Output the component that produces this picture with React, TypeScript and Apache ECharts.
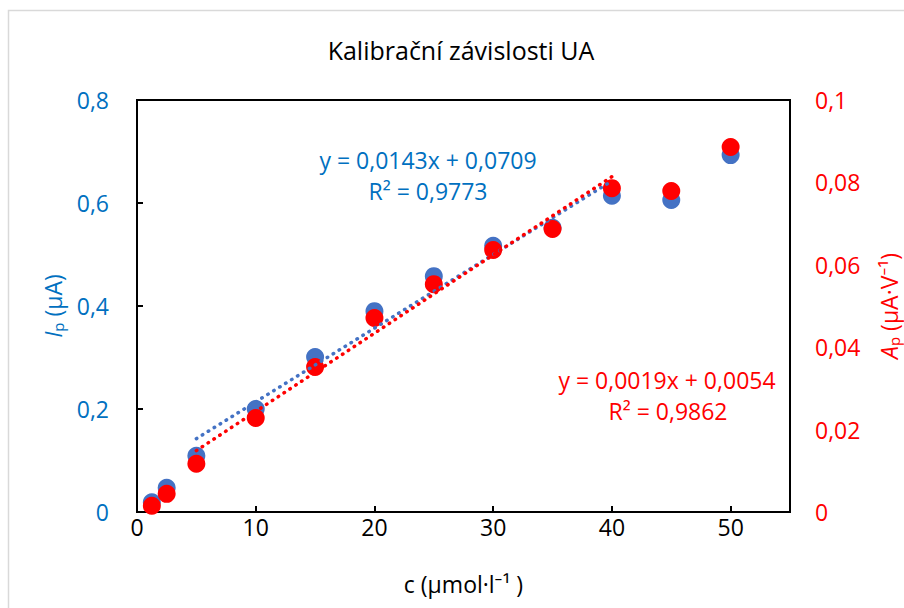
import React, { useEffect, useRef } from "react";
import * as echarts from "echarts";

const concentrations = [1.25, 2.5, 5, 10, 15, 20, 25, 30, 35, 40, 45, 50];
const currentIp = [0.019, 0.047, 0.109, 0.2, 0.301, 0.39, 0.458, 0.517, 0.552, 0.614, 0.606, 0.693];
const areaAp = [0.0015, 0.0044, 0.0117, 0.0228, 0.0352, 0.0471, 0.0553, 0.0636, 0.0687, 0.0786, 0.0779, 0.0886];
const trendIpX = [5, 40];
const trendIpY = [0.1424, 0.6429];
const trendApX = [5, 40];
const trendApY = [0.0149, 0.0814];
const xTicks = [0, 10, 20, 30, 40, 50];
const leftTicks = [0, 0.2, 0.4, 0.6, 0.8];
const rightTicks = [0, 0.02, 0.04, 0.06, 0.08, 0.1];

const FONT = "'Open Sans', 'Noto Sans', sans-serif";
const BLUE = "#0070C0";
const RED = "#FF0000";
const FS = 23;
const comma = (v: number) => String(v).replace(".", ",");

export default function App() {
  const ref = useRef<HTMLDivElement>(null);
  useEffect(() => {
    const chart = echarts.init(ref.current!, null, { renderer: "svg" });
    const txt = (text: string, x: number, y: number, fill: string, size = FS) => ({
      type: "text",
      x,
      y,
      silent: true,
      style: { text, fill, font: `${size}px ${FONT}`, align: "center", verticalAlign: "middle" },
    });
    chart.setOption({
      animation: false,
      backgroundColor: "#ffffff",
      textStyle: { fontFamily: FONT },
      graphic: [
        {
          type: "rect",
          shape: { x: 8.5, y: 10.5, width: 1000, height: 1000 },
          style: { fill: "none", stroke: "#d9d9d9", lineWidth: 1.5 },
          silent: true,
        },
        txt("Kalibrační závislosti UA", 461, 50, "#000", 25),
        txt("y = 0,0143x + 0,0709", 428, 160, BLUE),
        txt("R² = 0,9773", 428, 191, BLUE),
        txt("y = 0,0019x + 0,0054", 667, 380, RED),
        txt("R² = 0,9862", 668, 411, RED),
      ],
      grid: {
        left: 137,
        top: 100,
        right: 114,
        bottom: 96,
        containLabel: false,
        outerBoundsMode: "none",
        show: true,
        borderColor: "#000",
        borderWidth: 2,
      },
      xAxis: {
        type: "value",
        min: 0,
        max: 55,
        interval: 10,
        name: "c (µmol·l⁻¹ )",
        nameLocation: "middle",
        nameGap: 60,
        nameTextStyle: { fontFamily: FONT, fontSize: FS, color: "#000" },
        axisLine: { show: true, onZero: false, lineStyle: { color: "#000", width: 2 } },
        axisTick: { show: true, inside: true, length: 6, lineStyle: { color: "#000", width: 2 } },
        splitLine: { show: false },
        axisLabel: {
          fontFamily: FONT,
          fontSize: FS,
          color: "#000",
          margin: 3,
          formatter: (v: number) => (xTicks.includes(v) ? comma(v) : ""),
        },
      },
      yAxis: [
        {
          type: "value",
          min: 0,
          max: 0.8,
          interval: 0.2,
          position: "left",
          name: "{i|I}{s|p}{n| (µA)}",
          nameLocation: "middle",
          nameRotate: 90,
          nameGap: 67,
          nameTextStyle: {
            rich: {
              i: { fontFamily: FONT, fontSize: FS, fontStyle: "italic", color: BLUE },
              s: { fontFamily: FONT, fontSize: 15, color: BLUE, verticalAlign: "bottom", padding: [10, 0, 0, 0] },
              n: { fontFamily: FONT, fontSize: FS, color: BLUE },
            },
          },
          axisLine: { show: true, lineStyle: { color: "#000", width: 2 } },
          axisTick: { show: true, inside: true, length: 6, lineStyle: { color: "#000", width: 2 } },
          splitLine: { show: false },
          axisLabel: {
            fontFamily: FONT,
            fontSize: FS,
            color: BLUE,
            margin: 28,
            formatter: (v: number) => {
              const t = leftTicks.find((x) => Math.abs(x - v) < 1e-9);
              return t === undefined ? "" : comma(t);
            },
          },
        },
        {
          type: "value",
          min: 0,
          max: 0.1,
          interval: 0.02,
          position: "right",
          name: "{i|A}{s|p}{n| (µA·V⁻¹)}",
          nameLocation: "middle",
          nameRotate: 90,
          nameGap: 86,
          nameTextStyle: {
            rich: {
              i: { fontFamily: FONT, fontSize: FS, fontStyle: "italic", color: RED },
              s: { fontFamily: FONT, fontSize: 15, color: RED, verticalAlign: "bottom", padding: [10, 0, 0, 0] },
              n: { fontFamily: FONT, fontSize: FS, color: RED },
            },
          },
          axisLine: { show: true, lineStyle: { color: "#000", width: 2 } },
          axisTick: { show: false },
          splitLine: { show: false },
          axisLabel: {
            fontFamily: FONT,
            fontSize: FS,
            color: RED,
            margin: 25,
            formatter: (v: number) => {
              const t = rightTicks.find((x) => Math.abs(x - v) < 1e-9);
              return t === undefined ? "" : comma(t);
            },
          },
        },
      ],
      series: [
        {
          type: "scatter",
          yAxisIndex: 0,
          symbol: "circle",
          symbolSize: 18,
          itemStyle: { color: "#4472C4", opacity: 1 },
          data: concentrations.map((c, i) => [c, currentIp[i]]),
          z: 2,
        },
        {
          type: "scatter",
          yAxisIndex: 1,
          symbol: "circle",
          symbolSize: 18,
          itemStyle: { color: RED, opacity: 1 },
          data: concentrations.map((c, i) => [c, areaAp[i]]),
          z: 3,
        },
        {
          type: "line",
          yAxisIndex: 0,
          showSymbol: false,
          symbol: "none",
          lineStyle: { color: "#4472C4", width: 3.5, type: [0.5, 6.5], cap: "round" },
          data: trendIpX.map((x, i) => [x, trendIpY[i]]),
          z: 4,
        },
        {
          type: "line",
          yAxisIndex: 1,
          showSymbol: false,
          symbol: "none",
          lineStyle: { color: RED, width: 3.5, type: [0.5, 6.5], cap: "round" },
          data: trendApX.map((x, i) => [x, trendApY[i]]),
          z: 5,
        },
      ],
    });
    return () => chart.dispose();
  }, []);
  return (
    <div
      ref={ref}
      style={{ position: "absolute", left: 0, top: 0, width: 904, height: 608, background: "#fff" }}
    />
  );
}
